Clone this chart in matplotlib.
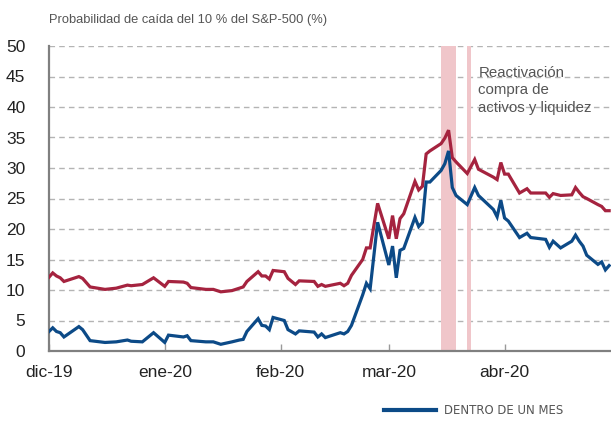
import matplotlib
matplotlib.use("Agg")
import matplotlib.pyplot as plt
import pandas as pd
from matplotlib import font_manager

plt.rcParams['font.family'] = ['Liberation Sans', 'DejaVu Sans']

# ---- data -------------------------------------------------------------
dates = ["2019-12-01", "2019-12-02", "2019-12-03", "2019-12-04", "2019-12-05",
         "2019-12-09", "2019-12-10", "2019-12-12", "2019-12-16", "2019-12-19",
         "2019-12-22", "2019-12-23", "2019-12-26", "2019-12-29", "2020-01-01",
         "2020-01-02", "2020-01-06", "2020-01-07", "2020-01-08", "2020-01-12",
         "2020-01-14", "2020-01-16", "2020-01-19", "2020-01-21", "2020-01-22",
         "2020-01-23", "2020-01-26", "2020-01-27", "2020-01-28", "2020-01-29",
         "2020-01-30", "2020-02-02", "2020-02-03", "2020-02-05", "2020-02-06",
         "2020-02-10", "2020-02-11", "2020-02-12", "2020-02-13", "2020-02-17",
         "2020-02-18", "2020-02-19", "2020-02-20", "2020-02-23", "2020-02-24",
         "2020-02-25", "2020-02-27", "2020-03-01", "2020-03-02", "2020-03-03",
         "2020-03-04", "2020-03-05", "2020-03-08", "2020-03-09", "2020-03-10",
         "2020-03-11", "2020-03-12", "2020-03-15", "2020-03-16", "2020-03-17",
         "2020-03-18", "2020-03-19", "2020-03-22", "2020-03-24", "2020-03-25",
         "2020-03-29", "2020-03-30", "2020-03-31", "2020-04-01", "2020-04-02",
         "2020-04-05", "2020-04-07", "2020-04-08", "2020-04-12", "2020-04-13",
         "2020-04-14", "2020-04-16", "2020-04-19", "2020-04-20", "2020-04-21",
         "2020-04-22", "2020-04-23", "2020-04-26", "2020-04-27", "2020-04-28",
         "2020-04-29"]

red_series = [12.1, 12.8, 12.3, 12.0, 11.4,
              12.2, 11.9, 10.5, 10.1, 10.3,
              10.8, 10.7, 10.9, 12.0, 10.6,
              11.4, 11.3, 11.1, 10.4, 10.1,
              10.1, 9.7, 9.9, 10.3, 10.5,
              11.4, 13.0, 12.3, 12.3, 11.8,
              13.2, 13.0, 11.9, 10.9, 11.5,
              11.4, 10.6, 10.9, 10.6, 11.1,
              10.7, 11.1, 12.4, 15.0, 16.9,
              16.9, 24.2, 18.4, 22.2, 18.4,
              21.7, 22.5, 27.8, 26.4, 27.0,
              32.3, 32.8, 34.0, 34.9, 36.2,
              31.7, 31.0, 29.1, 31.4, 29.8,
              28.5, 28.1, 30.9, 29.0, 29.0,
              25.9, 26.6, 25.9, 25.9, 25.2,
              25.8, 25.5, 25.6, 26.8, 26.0,
              25.3, 25.0, 24.0, 23.7, 23.0,
              23.0]

blue_series = [3.2, 3.8, 3.2, 3.0, 2.3,
               4.0, 3.5, 1.7, 1.4, 1.5,
               1.8, 1.6, 1.5, 3.0, 1.4,
               2.6, 2.3, 2.5, 1.7, 1.5,
               1.5, 1.1, 1.5, 1.8, 1.9,
               3.2, 5.3, 4.2, 4.1, 3.5,
               5.5, 5.0, 3.5, 2.8, 3.3,
               3.1, 2.3, 2.8, 2.2, 3.0,
               2.8, 3.2, 4.2, 9.2, 11.1,
               10.2, 21.1, 14.1, 17.2, 12.0,
               16.5, 16.8, 21.9, 20.4, 21.1,
               27.7, 27.7, 29.6, 30.7, 32.8,
               26.8, 25.5, 24.0, 26.8, 25.5,
               23.2, 22.0, 24.7, 21.8, 21.3,
               18.6, 19.3, 18.6, 18.3, 17.0,
               18.0, 16.9, 18.0, 19.0, 18.0,
               17.2, 15.7, 14.2, 14.6, 13.3,
               14.0]

band_periods = [("2020-03-15", "2020-03-19"), ("2020-03-22", "2020-03-23")]

tick_dates = ["2019-12-01", "2020-01-01", "2020-02-01", "2020-03-01", "2020-04-01"]
tick_labels = ["dic-19", "ene-20", "feb-20", "mar-20", "abr-20"]

title_text = "Probabilidad de caída del 10 % del S&P-500 (%)"
annotation_text = "Reactivación\ncompra de\nactivos y liquidez"
legend_label = "DENTRO DE UN MES"

# ---- styling ----------------------------------------------------------
RED = "#a5233f"
BLUE = "#0c4a87"
BAND = "#f0c6ca"
GRID = "#b4b4b4"
SPINE = "#808080"
TEXT = "#222222"
GREYTXT = "#555555"

x = pd.to_datetime(dates)

fig = plt.figure(figsize=(6.11, 4.25), dpi=100)
ax = fig.add_axes([49 / 611, 1 - 351 / 425, 1 - 49 / 611, (351 - 46) / 425])

for start, end in band_periods:
    ax.axvspan(pd.Timestamp(start), pd.Timestamp(end), color=BAND, lw=0, zorder=1)

ax.plot(x, red_series, color=RED, lw=2.3, zorder=3, solid_joinstyle="miter")
blue_line, = ax.plot(x, blue_series, color=BLUE, lw=2.3, zorder=4,
                     solid_joinstyle="miter")

ax.set_ylim(0, 50)
ax.set_xlim(pd.Timestamp("2019-12-01"), pd.Timestamp("2020-04-29 12:00"))
ax.set_yticks(range(0, 51, 5))
for yv in range(5, 51, 5):
    ax.axhline(yv, color=GRID, lw=1.0, ls=(0, (4, 3)), zorder=0)

ax.set_xticks(pd.to_datetime(tick_dates))
ax.set_xticklabels(tick_labels)

ax.tick_params(axis="y", length=0, pad=17, labelsize=12.5, labelcolor=TEXT)
ax.tick_params(axis="x", direction="in", length=5, width=1, color="#9a9a9a",
               pad=10, labelsize=12.5, labelcolor=TEXT)

for s in ["top", "right"]:
    ax.spines[s].set_visible(False)
for s in ["left", "bottom"]:
    ax.spines[s].set_color(SPINE)
    ax.spines[s].set_linewidth(1.6)

fig.text(49 / 611, 1 - 20 / 425, title_text, fontsize=9.3, color=GREYTXT,
         va="center", ha="left")

ax.text(pd.Timestamp("2020-03-25"), 46.7, annotation_text, fontsize=10.8,
        color=GREYTXT, va="top", ha="left", linespacing=1.3, zorder=5)

# legend font: a condensed face if one is installed
narrow = None
for f in font_manager.fontManager.ttflist:
    low = f.fname.lower()
    if ("narrow" in low or "condensed" in low) and "bold" not in low and "oblique" not in low and "italic" not in low:
        if "liberation" in low:
            narrow = f.fname
            break
        if narrow is None:
            narrow = f.fname
if narrow is not None:
    leg_prop = font_manager.FontProperties(fname=narrow, size=9.4)
else:
    leg_prop = font_manager.FontProperties(family="Liberation Sans", size=8.8)

leg = ax.legend([blue_line], [legend_label], loc="center left",
                bbox_to_anchor=(384 / 611, 1 - 411 / 425),
                bbox_transform=fig.transFigure, frameon=False,
                handlelength=4.0, handletextpad=0.6, borderpad=0,
                borderaxespad=0, prop=leg_prop)
for t in leg.get_texts():
    t.set_color(GREYTXT)
leg.get_lines()[0].set_linewidth(3)

fig.savefig("out.png", dpi=100)
